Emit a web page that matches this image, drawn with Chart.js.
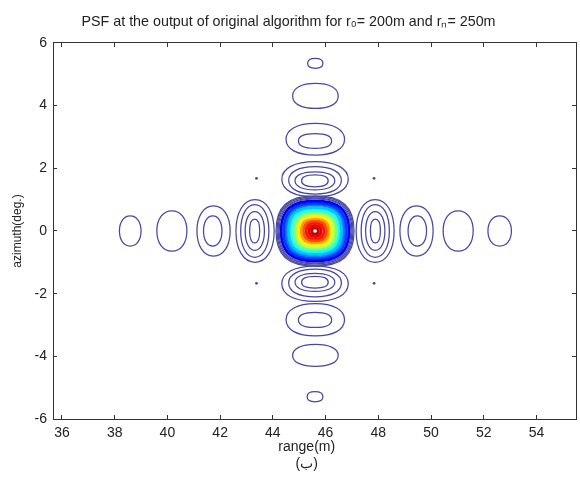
<!DOCTYPE html>
<html><head><meta charset="utf-8">
<script src="https://cdn.jsdelivr.net/npm/chart.js@4.4.0/dist/chart.umd.min.js"></script>
<style>html,body{margin:0;padding:0;background:#fff}#wrap{width:580px;height:480px}</style>
</head><body><div id="wrap"><canvas id="c" width="580" height="480"></canvas></div>
<script>
// ---- data ----
const rangeTicks = [36, 38, 40, 42, 44, 46, 48, 50, 52, 54];
const azimuthTicks = [-6, -4, -2, 0, 2, 4, 6];
const rangeLimits = [35.66, 55.5];
const azimuthLimits = [-6, 6];

// side-lobe contours along the range axis: [rangeMin, rangeMax, azimuthMin, azimuthMax]
const rangeLobes = [
  [38.18, 39.00, -0.48, 0.48],
  [39.60, 40.74, -0.64, 0.64],
  [41.12, 42.38, -0.80, 0.80],
  [41.37, 42.07, -0.48, 0.48],
  [42.60, 44.05, -1.00, 1.00],
  [42.78, 43.85, -0.84, 0.84],
  [42.95, 43.68, -0.62, 0.62],
  [43.12, 43.50, -0.38, 0.38],
  [47.16, 48.60, -1.00, 1.00],
  [47.35, 48.42, -0.84, 0.84],
  [47.52, 48.25, -0.62, 0.62],
  [47.70, 48.08, -0.38, 0.38],
  [48.82, 50.08, -0.80, 0.80],
  [49.13, 49.83, -0.48, 0.48],
  [50.46, 51.60, -0.64, 0.64],
  [52.16, 53.05, -0.48, 0.48]
];

// side-lobe contours along the azimuth axis: [rangeMin, rangeMax, azimuthMin, azimuthMax]
const azimuthLobes = [
  [45.32, 45.90, 5.19, 5.51],
  [44.75, 46.48, 3.91, 4.71],
  [44.50, 46.72, 2.42, 3.43],
  [44.97, 46.23, 2.64, 3.11],
  [44.34, 46.86, 1.09, 2.21],
  [44.60, 46.60, 1.18, 2.05],
  [44.84, 46.35, 1.31, 1.89],
  [45.09, 46.10, 1.41, 1.79],
  [44.34, 46.86, -2.25, -1.12],
  [44.60, 46.60, -2.10, -1.22],
  [44.84, 46.35, -1.93, -1.35],
  [45.09, 46.10, -1.82, -1.45],
  [44.50, 46.72, -3.35, -2.32],
  [44.97, 46.23, -3.08, -2.60],
  [44.75, 46.48, -4.32, -3.62],
  [45.30, 45.90, -5.45, -5.13]
];

// main lobe: peak position, contour levels and their half extents
const peakRange = 45.6;
const peakAzimuth = 0.0;
const mainLobeLevels = [0.02, 0.04, 0.06, 0.08, 0.12, 0.18, 0.25, 0.32, 0.40, 0.48, 0.56, 0.64, 0.72, 0.80, 0.86, 0.90, 0.93];
const mainLobeHalfRange = [1.48, 1.44, 1.40, 1.36, 1.29, 1.19, 1.10, 1.00, 0.91, 0.81, 0.72, 0.63, 0.53, 0.44, 0.34, 0.23, 0.13];
const mainLobeHalfAzimuth = [1.12, 1.09, 1.05, 1.02, 0.96, 0.89, 0.83, 0.75, 0.67, 0.61, 0.54, 0.46, 0.40, 0.32, 0.26, 0.18, 0.10];

// isolated tiny contours at the diagonals
const cornerDots = [
  {x: 43.38, y: 1.68}, {x: 47.84, y: 1.68},
  {x: 43.38, y: -1.67}, {x: 47.84, y: -1.67}
];

// ---- build datasets ----
function ringPoints(xmin, xmax, ymin, ymax) {
  const cx = (xmin + xmax) / 2, cy = (ymin + ymax) / 2;
  const A = {x: xmin, y: cy}, B = {x: cx, y: ymax}, C = {x: xmax, y: cy}, D = {x: cx, y: ymin};
  return [D, A, B, C, D, A, B];
}
function clamp01(v) { return Math.max(0, Math.min(1, v)); }
function jet(v) {
  const r = clamp01(1.5 - Math.abs(4 * v - 3));
  const g = clamp01(1.5 - Math.abs(4 * v - 2));
  const b = clamp01(1.5 - Math.abs(4 * v - 1));
  return `rgb(${Math.round(r * 255)},${Math.round(g * 255)},${Math.round(b * 255)})`;
}
const hideEnds = ctx => (ctx.p0DataIndex === 0 || ctx.p0DataIndex === 5) ? 'rgba(0,0,0,0)' : undefined;
const lineBlue = 'rgb(72,72,160)';

const datasets = [];
function addRing(ext, color, width, tension) {
  datasets.push({
    data: ringPoints(ext[0], ext[1], ext[2], ext[3]),
    showLine: true, borderColor: color, borderWidth: width, tension: tension,
    pointRadius: 0, pointHoverRadius: 0, fill: false,
    segment: {borderColor: hideEnds}
  });
}
rangeLobes.forEach(e => addRing(e, lineBlue, 1.25, 0.6));
azimuthLobes.forEach(e => addRing(e, lineBlue, 1.25, 0.62));
mainLobeLevels.forEach((lv, i) => {
  const hr = mainLobeHalfRange[i], ha = mainLobeHalfAzimuth[i];
  addRing([peakRange - hr, peakRange + hr, peakAzimuth - ha, peakAzimuth + ha],
          lv < 0.1 ? lineBlue : jet(lv), lv < 0.1 ? 1.2 : 2.8, 0.7);
});
datasets.push({data: cornerDots, showLine: false, pointRadius: 1.4, pointBackgroundColor: lineBlue, pointBorderWidth: 0});

const FONT = "'Liberation Sans', Arial, sans-serif";
const setRangeTicks = s => { s.ticks = rangeTicks.map(v => ({value: v})); };
const setAzTicks = s => { s.ticks = azimuthTicks.map(v => ({value: v})); };
const axisGrid = {drawOnChartArea: false, tickLength: -4, tickColor: '#333', lineWidth: 1};
const axisBorder = {display: true, color: '#333', width: 1};

new Chart(document.getElementById('c'), {
  type: 'scatter',
  data: {datasets},
  options: {
    responsive: false, animation: false, events: [],
    layout: {padding: {left: 0, right: 3, top: 0, bottom: 0}},
    plugins: {
      legend: {display: false}, tooltip: {enabled: false},
      title: {display: true, text: 'PSF at the output of original algorithm for r₀= 200m and rₙ= 250m',
        color: '#222', font: {family: FONT, size: 14.3, weight: 'normal'}, padding: {top: 13.2, bottom: 12.6}}
    },
    scales: {
      x: {type: 'linear', position: 'bottom', min: rangeLimits[0], max: rangeLimits[1],
        afterBuildTicks: setRangeTicks, afterFit: s => { s.height = 61; },
        grid: axisGrid, border: axisBorder,
        ticks: {padding: 10, color: '#222', font: {family: FONT, size: 14}, maxRotation: 0, autoSkip: false},
        title: {display: true, text: ['range(m)    ', '(ب)    '], color: '#222', font: {family: FONT, size: 14, lineHeight: 1.2}, padding: {top: 0, bottom: 7.8}}},
      x2: {type: 'linear', position: 'top', min: rangeLimits[0], max: rangeLimits[1],
        afterBuildTicks: setRangeTicks, afterFit: s => { s.height = 0; },
        grid: axisGrid, border: axisBorder, ticks: {display: false}},
      y: {type: 'linear', position: 'left', min: azimuthLimits[0], max: azimuthLimits[1],
        afterBuildTicks: setAzTicks, afterFit: s => { s.width = 53; },
        grid: axisGrid, border: axisBorder,
        ticks: {padding: 10, color: '#222', font: {family: FONT, size: 14}, autoSkip: false},
        title: {display: true, text: 'azimuth(deg.)', color: '#222', font: {family: FONT, size: 12}, padding: {top: 10, bottom: 0}}},
      y2: {type: 'linear', position: 'right', min: azimuthLimits[0], max: azimuthLimits[1],
        afterBuildTicks: setAzTicks, afterFit: s => { s.width = 0; },
        grid: axisGrid, border: axisBorder, ticks: {display: false}}
    }
  }
});
</script></body></html>
